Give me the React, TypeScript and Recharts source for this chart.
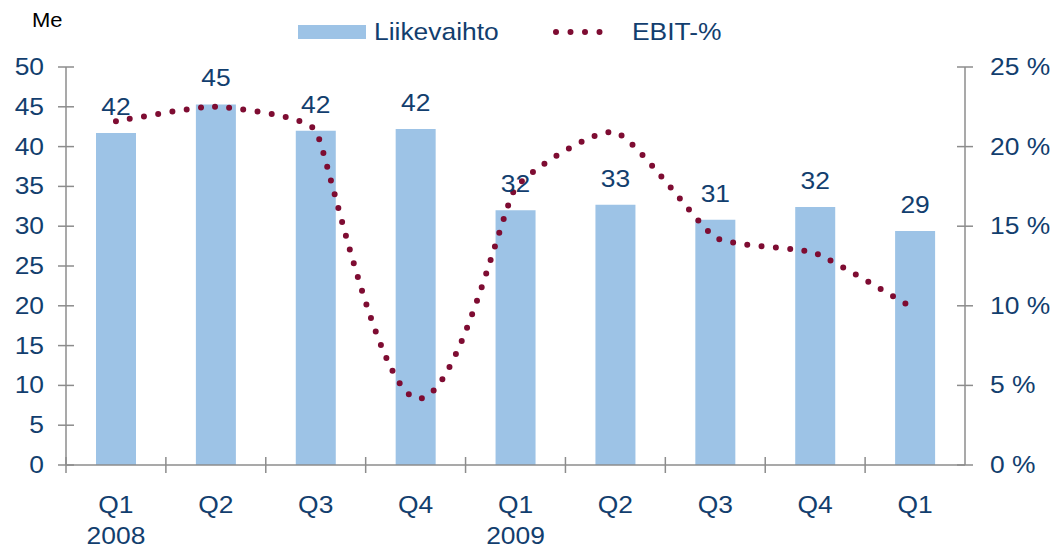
import { ComposedChart, Bar, Line, XAxis, YAxis, LabelList } from 'recharts'

// ── Liikevaihto (Me) bars + EBIT-% dotted line, quarterly 2008–2010 ──

const quarters = ['Q1', 'Q2', 'Q3', 'Q4', 'Q1', 'Q2', 'Q3', 'Q4', 'Q1']
const years = ['2008', '', '', '', '2009', '', '', '', '']
const liikevaihto = [41.7, 45.3, 42.0, 42.2, 32.0, 32.7, 30.8, 32.4, 29.4]
const ebitPct = [21.6, 22.5, 21.0, 4.2, 17.4, 20.9, 14.3, 13.3, 9.8]
const leftTicks = [0, 5, 10, 15, 20, 25, 30, 35, 40, 45, 50]
const rightTicks = [0, 5, 10, 15, 20, 25]

const W = 1050
const H = 548
const LEFT_W = 66
const RIGHT_W = 85
const TOP = 67
const X_H = 83
const BAND = (W - LEFT_W - RIGHT_W) / quarters.length

const NAVY = '#123E6E'
const AXIS = '#8C8C8C'
const BAR = '#9DC3E6'
const MAROON = '#7E0C32'
const FONT = '"Liberation Sans", Arial, sans-serif'
const FS = 24
const SX = 1.1 // the source text is slightly wide
const TICK = 8
const MARGIN = 6
const SMOOTH = 0.18 // how much the corners of the EBIT line are rounded

const data = quarters.map((q, i) => ({
  key: `${q} ${i}`,
  liikevaihto: liikevaihto[i],
  ebit: ebitPct[i],
}))

// lightly smoothed line: tangent from neighbours, short control arms so corners stay sharp-ish
function lightSmooth(context: any) {
  let pts: number[][] = []
  const len = (a: number[], b: number[]) => Math.hypot(b[0] - a[0], b[1] - a[1])
  const ctrl = (prev: number[], cur: number[], next: number[], toward: number[], sign: number) => {
    const dx = next[0] - prev[0]
    const dy = next[1] - prev[1]
    const d = Math.hypot(dx, dy) || 1
    const arm = SMOOTH * Math.min(len(prev, cur) || Infinity, len(cur, next) || Infinity, len(cur, toward))
    return [cur[0] + sign * dx / d * arm, cur[1] + sign * dy / d * arm]
  }
  return {
    areaStart() {},
    areaEnd() {},
    lineStart() { pts = [] },
    lineEnd() {
      if (!pts.length) return
      context.moveTo(pts[0][0], pts[0][1])
      for (let i = 0; i < pts.length - 1; i++) {
        const p0 = pts[i - 1] || pts[i]
        const p1 = pts[i]
        const p2 = pts[i + 1]
        const p3 = pts[i + 2] || p2
        const c1 = ctrl(p0, p1, p2, p2, 1)
        const c2 = ctrl(p1, p2, p3, p1, -1)
        context.bezierCurveTo(c1[0], c1[1], c2[0], c2[1], p2[0], p2[1])
      }
    },
    point(x: number, y: number) { pts.push([x, y]) },
  }
}

function SText({ x, y, anchor = 'middle', size = FS, fill = NAVY, children }: any) {
  return (
    <text transform={`translate(${x},${y}) scale(${SX},1)`} textAnchor={anchor}
          fill={fill} fontSize={size} fontFamily={FONT}>
      {children}
    </text>
  )
}

function LeftTick(props: any) {
  const { x, y, payload } = props
  const ax = x + TICK + MARGIN
  return (
    <g>
      <line x1={ax - TICK} x2={ax + TICK} y1={y} y2={y} stroke={AXIS} strokeWidth={1.5} />
      <SText x={ax - 22} y={y + 8} anchor="end">{payload.value}</SText>
    </g>
  )
}

function RightTick(props: any) {
  const { x, y, payload } = props
  const ax = x - TICK - MARGIN
  return (
    <g>
      <line x1={ax - TICK} x2={ax + TICK} y1={y} y2={y} stroke={AXIS} strokeWidth={1.5} />
      <SText x={ax + 25} y={y + 8} anchor="start">{`${payload.value} %`}</SText>
    </g>
  )
}

function BottomTick(props: any) {
  const { x, y, index } = props
  const ay = y - TICK - MARGIN
  const left = x - BAND / 2
  return (
    <g>
      <line x1={left} x2={left} y1={ay - TICK} y2={ay + TICK} stroke={AXIS} strokeWidth={1.5} />
      <SText x={x} y={ay + 48}>{quarters[index]}</SText>
      {years[index] && <SText x={x} y={ay + 79}>{years[index]}</SText>}
    </g>
  )
}

function BarLabel(props: any) {
  const { x, y, width, value } = props
  return <SText x={x + width / 2} y={y - 18}>{Math.round(value)}</SText>
}

export default function App() {
  return (
    <div style={{ position: 'absolute', left: 0, top: 0, width: W, height: H, background: '#fff' }}>
      <ComposedChart width={W} height={H} data={data} margin={{ top: TOP, right: 0, bottom: 0, left: 0 }}>
        <XAxis dataKey="key" height={X_H} axisLine={{ stroke: AXIS, strokeWidth: 1.5 }} tickLine={false}
               tickSize={TICK} tickMargin={MARGIN} tick={<BottomTick />} interval={0} />
        <YAxis yAxisId="left" orientation="left" width={LEFT_W} domain={[0, 50]} ticks={leftTicks}
               axisLine={{ stroke: AXIS, strokeWidth: 1.5 }} tickLine={false}
               tickSize={TICK} tickMargin={MARGIN} tick={<LeftTick />} interval={0} />
        <YAxis yAxisId="right" orientation="right" width={RIGHT_W} domain={[0, 25]} ticks={rightTicks}
               axisLine={{ stroke: AXIS, strokeWidth: 1.5 }} tickLine={false}
               tickSize={TICK} tickMargin={MARGIN} tick={<RightTick />} interval={0} />
        <Bar yAxisId="left" dataKey="liikevaihto" fill={BAR} barSize={40} isAnimationActive={false}>
          <LabelList dataKey="liikevaihto" content={<BarLabel />} />
        </Bar>
        <Line yAxisId="right" type={lightSmooth as any} dataKey="ebit" stroke={MAROON} strokeWidth={6}
              strokeDasharray="0 14.3" strokeLinecap="round" dot={false} activeDot={false}
              isAnimationActive={false} />
      </ComposedChart>

      {/* unit label and legend */}
      <svg width={W} height={60} style={{ position: 'absolute', left: 0, top: 0, pointerEvents: 'none' }}>
        <SText x={32} y={27} anchor="start" size={20} fill="#000">Me</SText>
        <rect x={298} y={25} width={68} height={14} fill={BAR} />
        <SText x={374} y={40} anchor="start">Liikevaihto</SText>
        <line x1={556} x2={614} y1={32} y2={32} stroke={MAROON} strokeWidth={6}
              strokeDasharray="0 14.5" strokeLinecap="round" />
        <SText x={632} y={40} anchor="start">EBIT-%</SText>
      </svg>
    </div>
  )
}
